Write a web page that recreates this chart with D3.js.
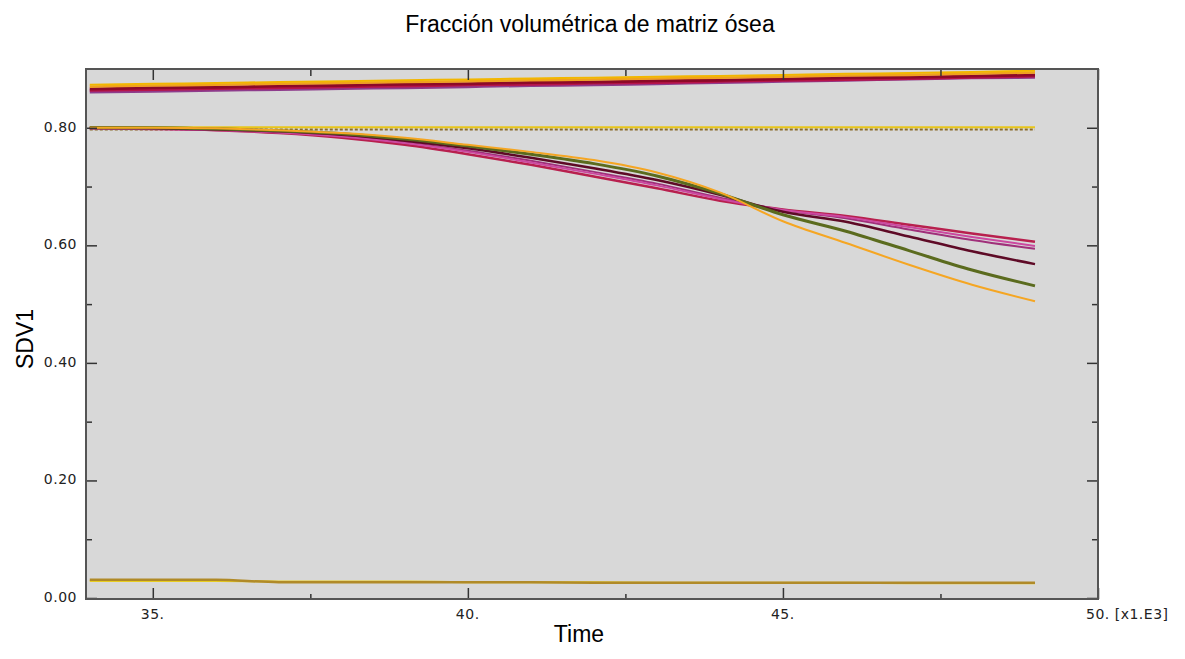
<!DOCTYPE html>
<html>
<head>
<meta charset="utf-8">
<script src="https://cdn.jsdelivr.net/npm/d3@7"></script>
<style>
    body { margin: 0; background: #fff; }
    .title, .axis-title { font-family: "Liberation Sans", Arial, sans-serif; fill: #000; }
    .tick-label { font-family: "DejaVu Sans", Verdana, sans-serif; font-size: 14px; letter-spacing: 0.5px; fill: #222; }
</style>
</head>
<body>
<svg id="chart"></svg>
<script>
'use strict';

var width = 1185;
var height = 659;

// Time axis (x1.E3)
var times = [34, 35, 36, 37, 38, 39, 40, 41, 42, 43, 44, 45, 46, 47, 48, 49];

// Upper band, ~0.87 -> 0.89
var top_gold    = [0.873, 0.875, 0.876, 0.878, 0.879, 0.881, 0.882, 0.884, 0.885, 0.887, 0.888, 0.890, 0.892, 0.893, 0.895, 0.897];
var top_orange  = [0.870, 0.872, 0.873, 0.875, 0.876, 0.878, 0.879, 0.881, 0.882, 0.884, 0.885, 0.887, 0.889, 0.890, 0.892, 0.894];
var top_darkred = [0.866, 0.868, 0.869, 0.871, 0.872, 0.874, 0.875, 0.877, 0.878, 0.880, 0.881, 0.883, 0.885, 0.886, 0.888, 0.890];
var top_crimson = [0.864, 0.865, 0.867, 0.868, 0.870, 0.871, 0.873, 0.874, 0.876, 0.877, 0.879, 0.881, 0.882, 0.884, 0.886, 0.888];
var top_purple  = [0.861, 0.862, 0.864, 0.865, 0.867, 0.868, 0.870, 0.872, 0.873, 0.875, 0.877, 0.879, 0.881, 0.883, 0.885, 0.886];

// Flat lines at 0.80
var flat_brown  = [0.797, 0.797, 0.797, 0.797, 0.797, 0.797, 0.797, 0.797, 0.797, 0.797, 0.797, 0.797, 0.797, 0.797, 0.797, 0.797];
var flat_yellow = [0.801, 0.801, 0.801, 0.801, 0.801, 0.801, 0.801, 0.801, 0.801, 0.801, 0.801, 0.801, 0.801, 0.801, 0.801, 0.801];

// Decaying curves, they all cross near t=44.5
var dec_crimson = [0.799, 0.798, 0.796, 0.791, 0.783, 0.771, 0.755, 0.737, 0.717, 0.697, 0.676, 0.661, 0.650, 0.635, 0.620, 0.606];
var dec_pink    = [0.799, 0.798, 0.796, 0.792, 0.785, 0.774, 0.759, 0.741, 0.722, 0.702, 0.679, 0.660, 0.648, 0.631, 0.614, 0.599];
var dec_purple  = [0.799, 0.798, 0.797, 0.792, 0.786, 0.775, 0.761, 0.744, 0.725, 0.705, 0.681, 0.660, 0.646, 0.627, 0.609, 0.594];
var dec_maroon  = [0.800, 0.799, 0.797, 0.794, 0.788, 0.778, 0.765, 0.749, 0.731, 0.711, 0.686, 0.657, 0.640, 0.615, 0.590, 0.568];
var dec_green   = [0.800, 0.800, 0.798, 0.795, 0.790, 0.781, 0.769, 0.755, 0.739, 0.718, 0.688, 0.652, 0.624, 0.591, 0.558, 0.531];
var dec_orange  = [0.800, 0.800, 0.799, 0.796, 0.791, 0.783, 0.771, 0.759, 0.745, 0.724, 0.690, 0.641, 0.604, 0.567, 0.533, 0.505];

// Bottom lines, ~0.03
var bot_yellow  = [0.029, 0.029, 0.029, 0.028, 0.028, 0.028, 0.027, 0.027, 0.027, 0.026, 0.026, 0.026, 0.026, 0.025, 0.025, 0.025];
var bot_olive   = [0.031, 0.031, 0.031, 0.027, 0.027, 0.027, 0.027, 0.027, 0.026, 0.026, 0.026, 0.026, 0.026, 0.026, 0.026, 0.026];

var x_ticks = [35, 40, 45, 50];
var x_tick_labels = ["35.", "40.", "45.", "50. [x1.E3]"];
var x_minor = [37.5, 42.5, 47.5];
var y_ticks = [0, 0.2, 0.4, 0.6, 0.8];
var y_tick_labels = ["0.00", "0.20", "0.40", "0.60", "0.80"];
var y_minor = [0.1, 0.3, 0.5, 0.7];

// drawing order + look of each curve
var series = [
    {values: flat_brown,  color: "#8a6a2a", w: 2, dash: "3,2"},
    {values: flat_yellow, color: "#e8c61a", w: 2},
    {values: top_purple,  color: "#8e3c8c", w: 3},
    {values: top_crimson, color: "#b8144a", w: 3},
    {values: top_darkred, color: "#8c0a28", w: 3},
    {values: top_orange,  color: "#f0a020", w: 2.5},
    {values: top_gold,    color: "#f2b600", w: 2},
    {values: dec_crimson, color: "#b8204e", w: 2.5},
    {values: dec_purple,  color: "#a0307a", w: 2},
    {values: dec_pink,    color: "#cc48a0", w: 2},
    {values: dec_maroon,  color: "#5e0a26", w: 2.5},
    {values: dec_green,   color: "#5b6b1e", w: 3},
    {values: dec_orange,  color: "#f5a623", w: 2},
    {values: bot_yellow,  color: "#e8cc20", w: 2},
    {values: bot_olive,   color: "#b08a28", w: 2.5},
];

var svg = d3.select("#chart")
    .attr("width", width)
    .attr("height", height);

var plot = {left: 86, right: 1098, top: 69, bottom: 599};

var x = d3.scaleLinear()
    .domain([33.94, 50])
    .range([plot.left, plot.right]);

var y = d3.scaleLinear()
    .domain([0, 0.9])
    .range([598, plot.top]);

// Plot background
svg.append("rect")
    .attr("x", plot.left)
    .attr("y", plot.top)
    .attr("width", plot.right - plot.left)
    .attr("height", plot.bottom - plot.top)
    .attr("fill", "#d8d8d8");

// Curves
var line = d3.line()
    .x(function(d) { return x(d[0]); })
    .y(function(d) { return y(d[1]); })
    .curve(d3.curveMonotoneX);

svg.append("clipPath").attr("id", "plot-clip")
    .append("rect")
    .attr("x", plot.left).attr("y", plot.top)
    .attr("width", plot.right - plot.left)
    .attr("height", plot.bottom - plot.top);

svg.append("g")
    .attr("clip-path", "url(#plot-clip)")
    .selectAll("path")
    .data(series)
    .join("path")
    .attr("fill", "none")
    .attr("stroke", function(s) { return s.color; })
    .attr("stroke-width", function(s) { return s.w; })
    .attr("stroke-dasharray", function(s) { return s.dash || null; })
    .attr("d", function(s) { return line(times.map(function(t, i) { return [t, s.values[i]]; })); });

// Axes, ticks pointing into the plot on all four sides
var tick_col = "#333";
var axes = svg.append("g");

axes.append("g")
    .attr("transform", "translate(0," + plot.bottom + ")")
    .call(d3.axisBottom(x).tickValues(x_ticks).tickSize(-11).tickFormat(""));
axes.append("g")
    .attr("transform", "translate(0," + plot.bottom + ")")
    .call(d3.axisBottom(x).tickValues(x_minor).tickSize(-5).tickFormat(""));
axes.append("g")
    .attr("transform", "translate(0," + plot.top + ")")
    .call(d3.axisTop(x).tickValues(x_ticks).tickSize(-11).tickFormat(""));
axes.append("g")
    .attr("transform", "translate(0," + plot.top + ")")
    .call(d3.axisTop(x).tickValues(x_minor).tickSize(-7).tickFormat(""));
axes.append("g")
    .attr("transform", "translate(" + plot.left + ",0)")
    .call(d3.axisLeft(y).tickValues(y_ticks).tickSize(-11).tickFormat(""));
axes.append("g")
    .attr("transform", "translate(" + plot.left + ",0)")
    .call(d3.axisLeft(y).tickValues(y_minor).tickSize(-6).tickFormat(""));
axes.append("g")
    .attr("transform", "translate(" + plot.right + ",0)")
    .call(d3.axisRight(y).tickValues(y_ticks).tickSize(-11).tickFormat(""));
axes.append("g")
    .attr("transform", "translate(" + plot.right + ",0)")
    .call(d3.axisRight(y).tickValues(y_minor).tickSize(-6).tickFormat(""));

axes.selectAll(".domain").remove();
axes.selectAll(".tick line").attr("stroke", tick_col).attr("stroke-width", 1.5);

// Frame
svg.append("rect")
    .attr("x", plot.left)
    .attr("y", plot.top)
    .attr("width", plot.right - plot.left)
    .attr("height", plot.bottom - plot.top)
    .attr("fill", "none")
    .attr("stroke", "#555")
    .attr("stroke-width", 2);

// Tick labels
svg.append("g")
    .selectAll("text")
    .data(x_ticks)
    .join("text")
    .attr("class", "tick-label")
    .attr("x", function(d) { return x(d) - 12; })
    .attr("y", 619)
    .text(function(d, i) { return x_tick_labels[i]; });

svg.append("g")
    .selectAll("text")
    .data(y_ticks)
    .join("text")
    .attr("class", "tick-label")
    .attr("x", 77)
    .attr("y", function(d) { return y(d) + 4; })
    .attr("text-anchor", "end")
    .text(function(d, i) { return y_tick_labels[i]; });

// Titles
svg.append("text")
    .attr("class", "title")
    .attr("x", 590)
    .attr("y", 32)
    .attr("text-anchor", "middle")
    .style("font-size", "23px")
    .text("Fracción volumétrica de matriz ósea");

svg.append("text")
    .attr("class", "axis-title")
    .attr("x", 579)
    .attr("y", 642)
    .attr("text-anchor", "middle")
    .style("font-size", "23px")
    .text("Time");

svg.append("text")
    .attr("class", "axis-title")
    .attr("transform", "translate(33,339) rotate(-90)")
    .attr("text-anchor", "middle")
    .style("font-size", "23px")
    .text("SDV1");
</script>
</body>
</html>
